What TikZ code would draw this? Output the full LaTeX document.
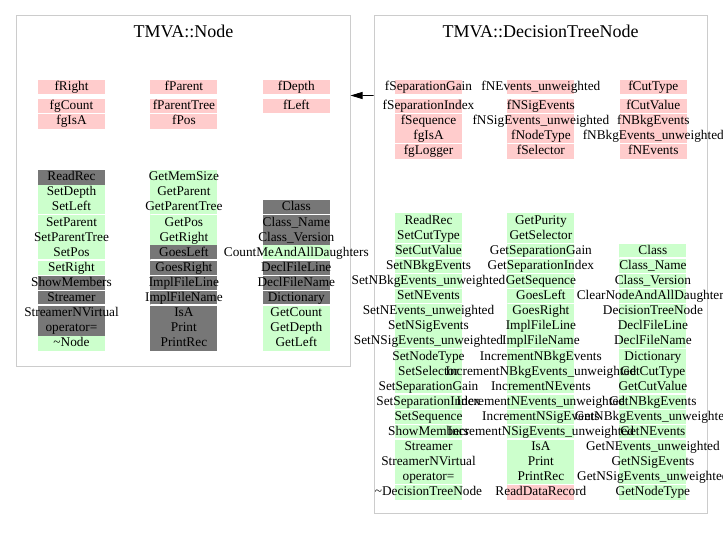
\documentclass[tikz,border=0pt]{standalone}
\usepackage{fontspec}
\setmainfont{Liberation Serif}
\usepackage{tikz}
\usetikzlibrary{positioning,arrows.meta}

\definecolor{datapink}{RGB}{255,204,204}
\definecolor{funcgreen}{RGB}{204,255,204}
\definecolor{funcgray}{RGB}{119,119,119}
\definecolor{boxgray}{RGB}{204,204,204}

\begin{document}
\begin{tikzpicture}[x=1bp, y=-1bp,
	cell/.style={inner sep=0pt, minimum height=14.7bp, text height=10bp, text depth=3bp,
		font=\fontsize{13.3bp}{14.7bp}\selectfont,
		execute at begin node={\hbox to 67bp\bgroup\hss},
		execute at end node={\hss\egroup}},
	pnk/.style={cell, fill=datapink},
	grn/.style={cell, fill=funcgreen},
	gry/.style={cell, fill=funcgray},
	sep/.style={path picture={\draw[white, line width=2bp] (path picture bounding box.south west) -- (path picture bounding box.south east);}},
	frame/.style={draw=boxgray, line width=1bp, inner sep=0pt},
	title/.style={inner sep=0pt, font=\fontsize{18bp}{20bp}\selectfont}]
				\useasboundingbox (0,0) rectangle (723,540);
				
				% TMVA::Node
				\node [frame, minimum width=333bp, minimum height=350bp] (node) at (183.5,191) {};
				\node [title, below=9bp of node.north] (nodeTitle) {TMVA::Node};
				
				\node [pnk] (nfRight) at (71.5,87) {fRight};
				\node [pnk, below=4bp of nfRight] (nfgCount) {fgCount};
				\node [pnk, below=0cm of nfgCount] (nfgIsA) {fgIsA};
				\node [pnk, right=45bp of nfRight] (nfParent) {fParent};
				\node [pnk, below=4bp of nfParent] (nfParentTree) {fParentTree};
				\node [pnk, below=0cm of nfParentTree] (nfPos) {fPos};
				\node [pnk, right=45bp of nfParent] (nfDepth) {fDepth};
				\node [pnk, below=4bp of nfDepth] (nfLeft) {fLeft};
				
				\node [gry] (nReadRec) at (71.5,177.3) {ReadRec};
				\node [grn, below=0cm of nReadRec] (nSetDepth) {SetDepth};
				\node [grn, sep, below=0cm of nSetDepth] (nSetLeft) {SetLeft};
				\node [grn, below=0cm of nSetLeft] (nSetParent) {SetParent};
				\node [grn, below=0cm of nSetParent] (nSetParentTree) {SetParentTree};
				\node [grn, sep, below=0cm of nSetParentTree] (nSetPos) {SetPos};
				\node [grn, below=0cm of nSetPos] (nSetRight) {SetRight};
				\node [gry, below=0cm of nSetRight] (nShowMembers) {ShowMembers};
				\node [gry, sep, below=0cm of nShowMembers] (nStreamer) {Streamer};
				\node [gry, below=0cm of nStreamer] (nStreamerNVirtual) {StreamerNVirtual};
				\node [gry, below=0cm of nStreamerNVirtual] (nAssign) {operator=};
				\node [grn, below=0cm of nAssign] (nDtor) {\textasciitilde Node};
				
				\node [grn, right=45bp of nReadRec] (nGetMemSize) {GetMemSize};
				\node [grn, below=0cm of nGetMemSize] (nGetParent) {GetParent};
				\node [grn, sep, below=0cm of nGetParent] (nGetParentTree) {GetParentTree};
				\node [grn, below=0cm of nGetParentTree] (nGetPos) {GetPos};
				\node [grn, below=0cm of nGetPos] (nGetRight) {GetRight};
				\node [gry, sep, below=0cm of nGetRight] (nGoesLeft) {GoesLeft};
				\node [gry, below=0cm of nGoesLeft] (nGoesRight) {GoesRight};
				\node [gry, below=0cm of nGoesRight] (nImplFileLine) {ImplFileLine};
				\node [gry, sep, below=0cm of nImplFileLine] (nImplFileName) {ImplFileName};
				\node [gry, below=0cm of nImplFileName] (nIsA) {IsA};
				\node [gry, below=0cm of nIsA] (nPrint) {Print};
				\node [gry, below=0cm of nPrint] (nPrintRec) {PrintRec};
				
				\node [gry, sep, right=45bp of nGetParentTree] (nClass) {Class};
				\node [gry, below=0cm of nClass] (nClassName) {Class\_Name};
				\node [gry, below=0cm of nClassName] (nClassVersion) {Class\_Version};
				\node [grn, sep, below=0cm of nClassVersion] (nCountMe) {CountMeAndAllDaughters};
				\node [gry, below=0cm of nCountMe] (nDeclFileLine) {DeclFileLine};
				\node [gry, below=0cm of nDeclFileLine] (nDeclFileName) {DeclFileName};
				\node [gry, sep, below=0cm of nDeclFileName] (nDictionary) {Dictionary};
				\node [grn, below=0cm of nDictionary] (nGetCount) {GetCount};
				\node [grn, below=0cm of nGetCount] (nGetDepth) {GetDepth};
				\node [grn, below=0cm of nGetDepth] (nGetLeft) {GetLeft};
				
				% TMVA::DecisionTreeNode
				\node [frame, minimum width=333bp, minimum height=497bp] (dtn) at (540.5,264.5) {};
				\node [title, below=9bp of dtn.north] (dtnTitle) {TMVA::DecisionTreeNode};
				
				\node [pnk] (dfSepGain) at (428.5,87) {fSeparationGain};
				\node [pnk, below=4bp of dfSepGain] (dfSepIndex) {fSeparationIndex};
				\node [pnk, below=0cm of dfSepIndex] (dfSequence) {fSequence};
				\node [pnk, sep, below=0cm of dfSequence] (dfgIsA) {fgIsA};
				\node [pnk, below=0cm of dfgIsA] (dfgLogger) {fgLogger};
				\node [pnk, right=45bp of dfSepGain] (dfNEvUnw) {fNEvents\_unweighted};
				\node [pnk, below=4bp of dfNEvUnw] (dfNSig) {fNSigEvents};
				\node [pnk, below=0cm of dfNSig] (dfNSigUnw) {fNSigEvents\_unweighted};
				\node [pnk, sep, below=0cm of dfNSigUnw] (dfNodeType) {fNodeType};
				\node [pnk, below=0cm of dfNodeType] (dfSelector) {fSelector};
				\node [pnk, right=45bp of dfNEvUnw] (dfCutType) {fCutType};
				\node [pnk, below=4bp of dfCutType] (dfCutValue) {fCutValue};
				\node [pnk, below=0cm of dfCutValue] (dfNBkg) {fNBkgEvents};
				\node [pnk, sep, below=0cm of dfNBkg] (dfNBkgUnw) {fNBkgEvents\_unweighted};
				\node [pnk, below=0cm of dfNBkgUnw] (dfNEvents) {fNEvents};
				
				\node [grn] (dReadRec) at (428.5,220.7) {ReadRec};
				\node [grn, below=0cm of dReadRec] (dSetCutType) {SetCutType};
				\node [grn, sep, below=0cm of dSetCutType] (dSetCutValue) {SetCutValue};
				\node [grn, below=0cm of dSetCutValue] (dSetNBkg) {SetNBkgEvents};
				\node [grn, below=0cm of dSetNBkg] (dSetNBkgUnw) {SetNBkgEvents\_unweighted};
				\node [grn, sep, below=0cm of dSetNBkgUnw] (dSetNEv) {SetNEvents};
				\node [grn, below=0cm of dSetNEv] (dSetNEvUnw) {SetNEvents\_unweighted};
				\node [grn, below=0cm of dSetNEvUnw] (dSetNSig) {SetNSigEvents};
				\node [grn, sep, below=0cm of dSetNSig] (dSetNSigUnw) {SetNSigEvents\_unweighted};
				\node [grn, below=0cm of dSetNSigUnw] (dSetNodeType) {SetNodeType};
				\node [grn, below=0cm of dSetNodeType] (dSetSelector) {SetSelector};
				\node [grn, sep, below=0cm of dSetSelector] (dSetSepGain) {SetSeparationGain};
				\node [grn, below=0cm of dSetSepGain] (dSetSepIndex) {SetSeparationIndex};
				\node [grn, below=0cm of dSetSepIndex] (dSetSequence) {SetSequence};
				\node [grn, sep, below=0cm of dSetSequence] (dShowMembers) {ShowMembers};
				\node [grn, below=0cm of dShowMembers] (dStreamer) {Streamer};
				\node [grn, below=0cm of dStreamer] (dStreamerNVirtual) {StreamerNVirtual};
				\node [grn, sep, below=0cm of dStreamerNVirtual] (dAssign) {operator=};
				\node [grn, below=0cm of dAssign] (dDtor) {\textasciitilde DecisionTreeNode};
				
				\node [grn, sep, right=157bp of dSetCutValue] (dClass) {Class};
				\node [grn, below=0cm of dClass] (dClassName) {Class\_Name};
				\node [grn, below=0cm of dClassName] (dClassVersion) {Class\_Version};
				\node [grn, sep, below=0cm of dClassVersion] (dClearNode) {ClearNodeAndAllDaughters};
				\node [grn, below=0cm of dClearNode] (dCtor) {DecisionTreeNode};
				\node [grn, below=0cm of dCtor] (dDeclFileLine) {DeclFileLine};
				\node [grn, sep, below=0cm of dDeclFileLine] (dDeclFileName) {DeclFileName};
				\node [grn, below=0cm of dDeclFileName] (dDictionary) {Dictionary};
				\node [grn, below=0cm of dDictionary] (dGetCutType) {GetCutType};
				\node [grn, sep, below=0cm of dGetCutType] (dGetCutValue) {GetCutValue};
				\node [grn, below=0cm of dGetCutValue] (dGetNBkg) {GetNBkgEvents};
				\node [grn, below=0cm of dGetNBkg] (dGetNBkgUnw) {GetNBkgEvents\_unweighted};
				\node [grn, sep, below=0cm of dGetNBkgUnw] (dGetNEv) {GetNEvents};
				\node [grn, below=0cm of dGetNEv] (dGetNEvUnw) {GetNEvents\_unweighted};
				\node [grn, below=0cm of dGetNEvUnw] (dGetNSig) {GetNSigEvents};
				\node [grn, sep, below=0cm of dGetNSig] (dGetNSigUnw) {GetNSigEvents\_unweighted};
				\node [grn, below=0cm of dGetNSigUnw] (dGetNodeType) {GetNodeType};
				
				\node [grn, right=45bp of dReadRec] (dGetPurity) {GetPurity};
				\node [grn, below=0cm of dGetPurity] (dGetSelector) {GetSelector};
				\node [grn, sep, below=0cm of dGetSelector] (dGetSepGain) {GetSeparationGain};
				\node [grn, below=0cm of dGetSepGain] (dGetSepIndex) {GetSeparationIndex};
				\node [grn, below=0cm of dGetSepIndex] (dGetSequence) {GetSequence};
				\node [grn, sep, below=0cm of dGetSequence] (dGoesLeft) {GoesLeft};
				\node [grn, below=0cm of dGoesLeft] (dGoesRight) {GoesRight};
				\node [grn, below=0cm of dGoesRight] (dImplFileLine) {ImplFileLine};
				\node [grn, sep, below=0cm of dImplFileLine] (dImplFileName) {ImplFileName};
				\node [grn, below=0cm of dImplFileName] (dIncNBkg) {IncrementNBkgEvents};
				\node [grn, below=0cm of dIncNBkg] (dIncNBkgUnw) {IncrementNBkgEvents\_unweighted};
				\node [grn, sep, below=0cm of dIncNBkgUnw] (dIncNEv) {IncrementNEvents};
				\node [grn, below=0cm of dIncNEv] (dIncNEvUnw) {IncrementNEvents\_unweighted};
				\node [grn, below=0cm of dIncNEvUnw] (dIncNSig) {IncrementNSigEvents};
				\node [grn, sep, below=0cm of dIncNSig] (dIncNSigUnw) {IncrementNSigEvents\_unweighted};
				\node [grn, below=0cm of dIncNSigUnw] (dIsA) {IsA};
				\node [grn, below=0cm of dIsA] (dPrint) {Print};
				\node [grn, sep, below=0cm of dPrint] (dPrintRec) {PrintRec};
				\node [pnk, below=0cm of dPrintRec] (dReadDataRecord) {ReadDataRecord};
				
				% inheritance
				\draw [-{Triangle[length=12bp,width=7bp]}, line width=0.8bp] ([yshift=-80bp]dtn.north west) -- ([yshift=-80bp]node.north east);
			\end{tikzpicture}
\end{document}
